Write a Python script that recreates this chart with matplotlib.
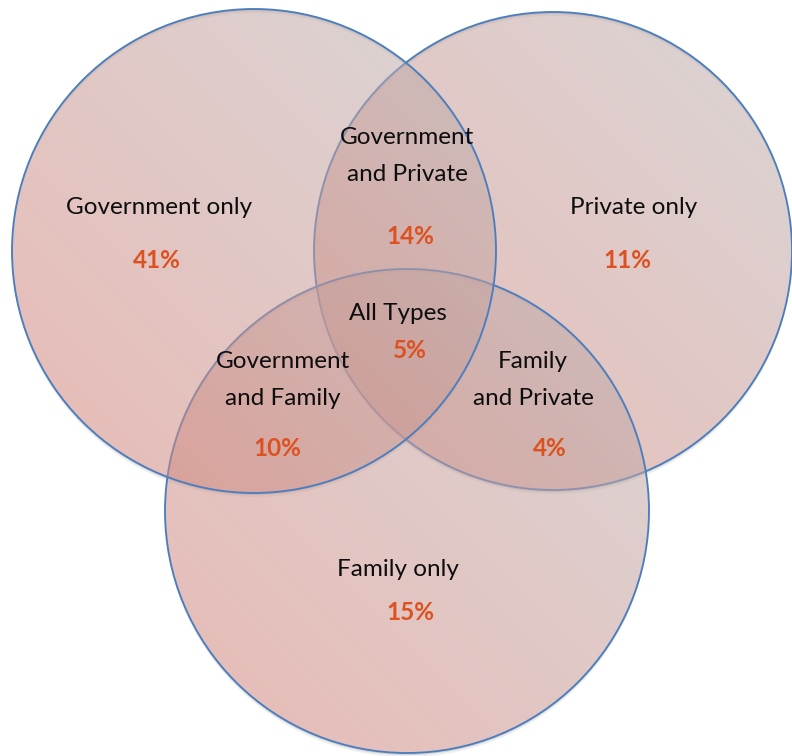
import numpy as np
import matplotlib.pyplot as plt
from matplotlib.patches import Circle, PathPatch
from matplotlib.path import Path

# regions of the diagram and their shares (%)
regions = ["Government only", "Government\nand Private", "Private only", "All Types",
           "Government\nand Family", "Family\nand Private", "Family only"]
shares = [41, 14, 11, 5, 10, 4, 15]

# where each label / percentage sits (pixel coords, y down)
label_xy = [(159, 207), (407, 156), (634, 207), (398, 314), (283, 380), (533, 380), (398, 570)]
pct_xy = [(157, 261), (410, 236), (627, 261), (410, 351), (277, 449), (550, 449), (410, 613)]

# circles: drawn right, bottom, left so the left one sits on top
circles = [(553, 251, 239), (407, 511, 242), (254, 251, 242)]

W, H = 792, 756
fig = plt.figure(figsize=(W / 100, H / 100), dpi=100)
ax = fig.add_axes([0, 0, 1, 1])
ax.set_xlim(0, W)
ax.set_ylim(H, 0)
ax.axis("off")

pink = np.array([214, 130, 120]) / 255
grey = np.array([188, 180, 180]) / 255
edge = "#4a7ebf"


def ring(cx, cy, r, dy):
    # offset disc minus the disc itself, as one path
    th = np.linspace(0, 2 * np.pi, 361)
    outer = np.c_[cx + r * np.cos(th), cy + dy + r * np.sin(th)]
    inner = np.c_[cx + r * np.cos(th[::-1]), cy + r * np.sin(th[::-1])]
    verts = np.vstack([outer, inner])
    codes = ([Path.MOVETO] + [Path.LINETO] * 360) * 2
    return Path(verts, codes)


for cx, cy, r in circles:
    # soft shadow just below the outline
    for dy, a in [(2, 0.25), (4, 0.12)]:
        ax.add_patch(PathPatch(ring(cx, cy, r, dy), facecolor="#808080",
                               edgecolor="none", alpha=a, zorder=1))

    # diagonal gradient, pink lower-left to grey upper-right
    n = 200
    gx, gy = np.meshgrid(np.linspace(0, 1, n), np.linspace(0, 1, n))
    t = ((gx + (1 - gy)) / 2)[..., None]
    img = pink * (1 - t) + grey * t
    clip = Circle((cx, cy), r, transform=ax.transData)
    im = ax.imshow(img, extent=(cx - r, cx + r, cy + r, cy - r), alpha=0.55,
                   interpolation="bilinear", zorder=2)
    im.set_clip_path(clip)
    ax.add_patch(Circle((cx, cy), r, facecolor="none", edgecolor=edge, lw=1.35, zorder=2))

ax.set_xlim(0, W)
ax.set_ylim(H, 0)

font = "Lato"
for name, pos in zip(regions, label_xy):
    ax.text(pos[0], pos[1], name, ha="center", va="center", fontsize=17.5,
            family=font, color="#0d0d0d", linespacing=1.9, zorder=5)
for val, pos in zip(shares, pct_xy):
    ax.text(pos[0], pos[1], f"{val}%", ha="center", va="center", fontsize=17.5,
            family=font, fontweight="bold", color="#dc5120", zorder=5)

fig.savefig("out.png", dpi=100)
